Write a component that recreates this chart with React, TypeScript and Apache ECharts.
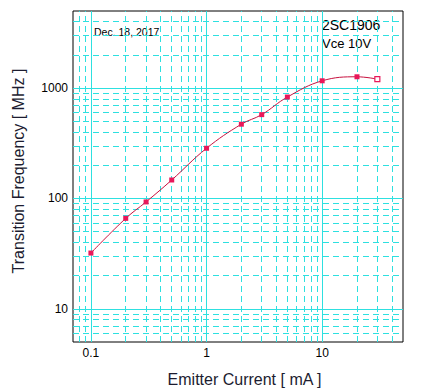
import React, { useEffect, useRef } from "react";
import * as echarts from "echarts";

// Data
const emitterCurrent = [0.1, 0.2, 0.3, 0.5, 1, 2, 3, 5, 10, 20, 30];
const transitionFreq = [32, 66, 93, 147, 285, 471, 575, 830, 1165, 1267, 1207];

const xMajor = [0.1, 1, 10];
const xMinor = [0.08, 0.09, 0.2, 0.3, 0.4, 0.5, 0.6, 0.7, 0.8, 0.9, 2, 3, 4, 5, 6, 7, 8, 9, 20, 30, 40];
const yMajor = [10, 100, 1000];
const yMinor = [6, 7, 8, 9, 20, 30, 40, 50, 60, 70, 80, 90, 200, 300, 400, 500, 600, 700, 800, 900, 2000, 3000, 4000];

const FONT = "Arial, 'Liberation Sans', sans-serif";
const GRID_COLOR = "#2ee0e0";

export default function App() {
  const ref = useRef<HTMLDivElement>(null);
  useEffect(() => {
    document.body.style.margin = "0";
    const chart = echarts.init(ref.current!, null, { renderer: "svg" });
    const lastIdx = transitionFreq.length - 1;
    chart.setOption({
      animation: false,
      backgroundColor: "#ffffff",
      grid: {
        left: 73,
        top: 11,
        right: 30,
        bottom: 50,
        show: true,
        borderColor: "#000000",
        borderWidth: 1,
        backgroundColor: "transparent",
      },
      xAxis: {
        type: "log",
        logBase: 10,
        min: 0.07,
        max: 50,
        axisLine: { show: false },
        axisTick: { show: false },
        splitLine: { show: false },
        axisLabel: {
          showMinLabel: false,
          showMaxLabel: false,
          color: "#000",
          fontSize: 12,
          fontFamily: FONT,
          margin: 5,
          formatter: (v: number) => String(v),
        },
      },
      yAxis: {
        type: "log",
        logBase: 10,
        min: 5,
        max: 5000,
        axisLine: { show: false },
        axisTick: { show: false },
        splitLine: { show: false },
        axisLabel: {
          showMinLabel: false,
          showMaxLabel: false,
          color: "#000",
          fontSize: 12,
          fontFamily: FONT,
          margin: 5,
          formatter: (v: number) => String(Math.round(v)),
        },
      },
      series: [
        {
          type: "line",
          silent: true,
          data: [],
          markLine: {
            silent: true,
            symbol: "none",
            label: { show: false },
            animation: false,
            lineStyle: { color: GRID_COLOR, width: 1, type: [6, 4] },
            data: [
              ...xMinor.map((v) => ({ xAxis: v })),
              ...yMinor.map((v) => ({ yAxis: v })),
            ],
          },
        },
        {
          type: "line",
          silent: true,
          data: [],
          markLine: {
            silent: true,
            symbol: "none",
            label: { show: false },
            animation: false,
            lineStyle: { color: GRID_COLOR, width: 1, type: "solid" },
            data: [
              ...xMajor.map((v) => ({ xAxis: v })),
              ...yMajor.map((v) => ({ yAxis: v })),
            ],
          },
        },
        {
          type: "line",
          z: 5,
          smooth: 0.4,
          symbol: "rect",
          symbolSize: 5,
          lineStyle: { color: "#c8103e", width: 1 },
          itemStyle: { color: "#e8185a" },
          data: emitterCurrent.map((x, i) =>
            i === lastIdx
              ? {
                  value: [x, transitionFreq[i]],
                  itemStyle: { color: "#ffffff", borderColor: "#e8185a", borderWidth: 1.2 },
                }
              : [x, transitionFreq[i]]
          ),
        },
      ],
      graphic: [
        {
          type: "text",
          x: 94,
          y: 31.5,
          style: {
            text: "Dec. 18, 2017",
            font: `10.5px ${FONT}`,
            fill: "#000",
            textAlign: "left",
            textVerticalAlign: "middle",
          },
        },
        {
          type: "text",
          x: 322,
          y: 25,
          style: {
            text: "2SC1906",
            font: `14px ${FONT}`,
            fill: "#000",
            textAlign: "left",
            textVerticalAlign: "middle",
          },
        },
        {
          type: "text",
          x: 322,
          y: 43.5,
          style: {
            text: "Vce 10V",
            font: `13px ${FONT}`,
            fill: "#000",
            textAlign: "left",
            textVerticalAlign: "middle",
          },
        },
        {
          type: "text",
          x: 18,
          y: 171,
          rotation: Math.PI / 2,
          style: {
            text: "Transition Frequency [ MHz ]",
            font: `16px ${FONT}`,
            fill: "#1c1c30",
            textAlign: "center",
            textVerticalAlign: "middle",
          },
        },
        {
          type: "text",
          x: 244.5,
          y: 379,
          style: {
            text: "Emitter Current [ mA ]",
            font: `16px ${FONT}`,
            fill: "#1c1c30",
            textAlign: "center",
            textVerticalAlign: "middle",
          },
        },
      ],
    });
    return () => chart.dispose();
  }, []);
  return <div ref={ref} style={{ width: 433, height: 392 }} />;
}
